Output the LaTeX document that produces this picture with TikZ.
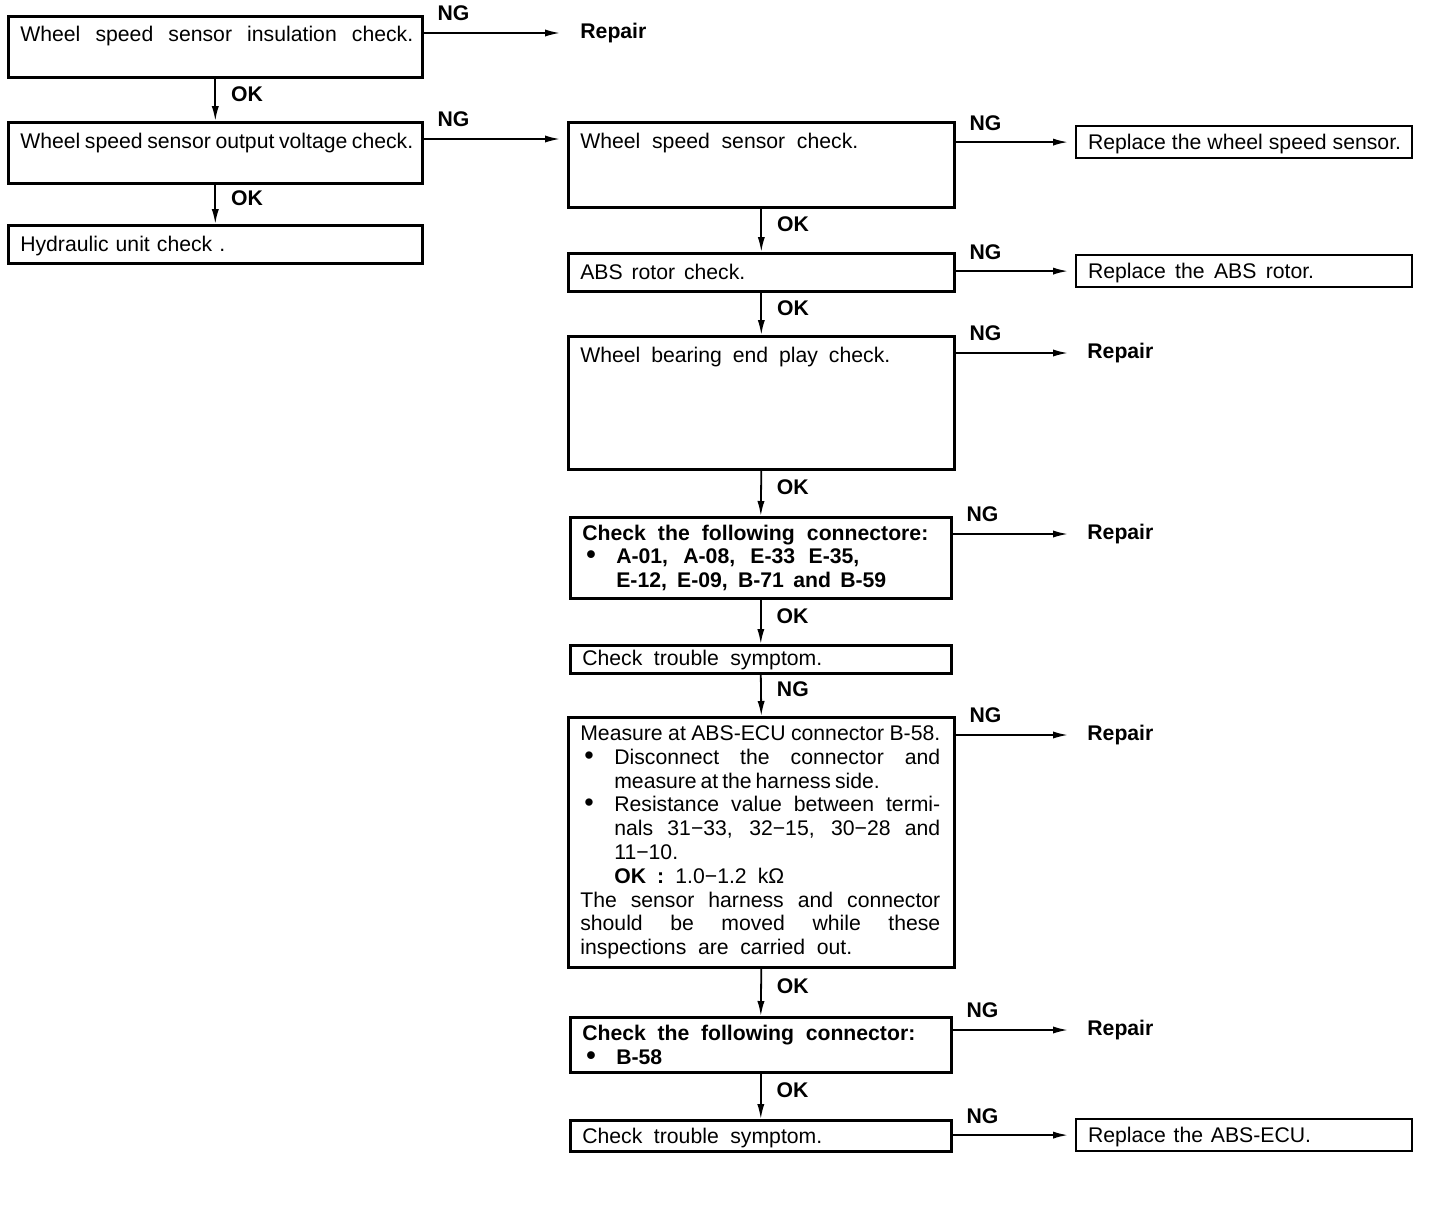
\documentclass[tikz,border=0pt]{standalone}
\usepackage{fontspec}
\setmainfont{Liberation Sans}
\usetikzlibrary{arrows.meta}

\newcommand{\chartfont}{\fontsize{10.6}{11.9}\selectfont}
\newcommand{\sline}[2]{\leavevmode\hbox to #1{\spaceskip=\fontdimen2\font plus 1fil minus \fontdimen4\font
  \xspaceskip=\spaceskip\relax #2}}
\newcommand{\bul}{\makebox[17pt][l]{\hspace{2pt}{\fontsize{13.5}{11.9}\selectfont\textbullet}}}
\newcommand{\ind}{\hspace*{17pt}}

\tikzset{
  box/.style={draw, line width=1.3pt, anchor=north west, inner xsep=6pt, inner ysep=0pt, align=left, text width=181pt},
  narrowbox/.style={box, text width=178.5pt},
  rbox/.style={box, line width=1.1pt, inner xsep=6pt, text width=156pt, text height=11.75pt, text depth=4.25pt},
  arr/.style={line width=0.9pt, -{Latex[length=7.5pt,width=3.6pt]}},
  ok/.style={anchor=west, inner sep=0pt, xshift=7.5pt, yshift=3pt, font=\chartfont\bfseries},
  ng/.style={pos=0, anchor=south west, inner sep=0pt, xshift=6.5pt, yshift=5.5pt, font=\chartfont\bfseries},
  rep/.style={anchor=west, inner sep=0pt, font=\chartfont\bfseries}
}

\begin{document}
\begin{tikzpicture}[x=0.5pt, y=-0.5pt, font=\chartfont]
  \useasboundingbox (0,0) rectangle (1440,1206);

  % Colonne de gauche
  \node[box, text width=195pt, text height=12.75pt, text depth=17.75pt] (insul) at (7,15)
    {\sline{196.5pt}{Wheel speed sensor insulation check.}};
  \node[box, text width=195pt, text height=13.25pt, text depth=17.25pt] (outvolt) at (7,121)
    {\sline{196.5pt}{Wheel speed sensor output voltage check.}};
  \node[box, text width=195pt, text height=13.25pt, text depth=5.75pt] (hydr) at (7,224)
    {Hydraulic unit check .};
  \node[rep] (repinsul) at (580,33) {Repair};

  % Colonne du milieu
  \node[box, text height=13.25pt, text depth=29.25pt] (sensor) at (567,121)
    {\sline{139pt}{Wheel speed sensor check.}};
  \node[box, text height=13.25pt, text depth=5.75pt] (rotor) at (567,252)
    {\sline{82.5pt}{ABS rotor check.}};
  \node[box, text height=13.25pt, text depth=53.25pt] (bearing) at (567,335)
    {\sline{155pt}{Wheel bearing end play check.}};
  \node[narrowbox, minimum height=40.5pt, font=\chartfont\bfseries] (conn) at (569,516)
    {\sline{173pt}{Check the following connectore:}\\
     \bul\sline{121.5pt}{A-01, A-08, E-33 E-35,}\\
     \ind\sline{135pt}{E-12, E-09, B-71 and B-59}};
  \node[narrowbox, text height=10.25pt, text depth=3.75pt] (symp) at (569,644)
    {\sline{120pt}{Check trouble symptom.}};
  \node[box, minimum height=125pt] (ecu) at (567,716)
    {\sline{180pt}{Measure at ABS-ECU connector B-58.}\\
     \bul\sline{163pt}{Disconnect the connector and}\\
     \ind\sline{131.5pt}{measure at the harness side.}\\
     \bul\sline{163pt}{Resistance value between termi-}\\
     \ind\sline{163pt}{nals 31−33, 32−15, 30−28 and}\\
     \ind 11−10.\\
     \ind\sline{85pt}{\textbf{OK :} 1.0−1.2 kΩ}\\
     \sline{180pt}{The sensor harness and connector}\\
     \sline{180pt}{should be moved while these}\\
     \sline{136pt}{inspections are carried out.}};
  \node[narrowbox, minimum height=27.5pt, font=\chartfont\bfseries] (connb) at (569,1016)
    {\sline{166.5pt}{Check the following connector:}\\
     \bul B-58};
  \node[narrowbox, text height=11.75pt, text depth=3.75pt] (sympb) at (569,1119)
    {\sline{120pt}{Check trouble symptom.}};

  % Colonne de droite
  \node[rbox] (repsensor) at (1075,125) {\sline{156.5pt}{Replace the wheel speed sensor.}};
  \node[rbox] (reprotor) at (1075,254) {\sline{113pt}{Replace the ABS rotor.}};
  \node[rbox] (repecu) at (1075,1118) {\sline{111.5pt}{Replace the ABS-ECU.}};
  \node[rep] (repbearing) at (1087,353) {Repair};
  \node[rep] (repconn) at (1087,534) {Repair};
  \node[rep] (repecum) at (1087,735) {Repair};
  \node[rep] (repconnb) at (1087,1030) {Repair};

  % Fleches OK
  \draw[arr] (insul.south) -- node[ok] {OK} (outvolt.north);
  \draw[arr] (outvolt.south) -- node[ok] {OK} (hydr.north);
  \draw[arr] (sensor.south) -- node[ok] {OK} (rotor.north);
  \draw[arr] (rotor.south) -- node[ok] {OK} (bearing.north);
  \draw[arr] (bearing.south) -- node[ok] {OK} (conn.north);
  \draw[arr] (conn.south) -- node[ok] {OK} (symp.north);
  \draw[arr] (symp.south) -- node[ok] {NG} (ecu.north);
  \draw[arr] (ecu.south) -- node[ok] {OK} (connb.north);
  \draw[arr] (connb.south) -- node[ok] {OK} (sympb.north);

  % Fleches NG
  \draw[arr, shorten >=10pt] (insul.east |- repinsul) -- node[ng] {NG} (repinsul.west);
  \draw[arr, shorten >=3.5pt] ([yshift=-9pt]outvolt.north east) -- node[ng] {NG} ([yshift=-9pt]sensor.north west);
  \draw[arr, shorten >=3.5pt] (sensor.east |- repsensor) -- node[ng] {NG} (repsensor.west);
  \draw[arr, shorten >=3.5pt] (rotor.east |- reprotor) -- node[ng] {NG} (reprotor.west);
  \draw[arr, shorten >=9.5pt] (bearing.east |- repbearing) -- node[ng] {NG} (repbearing.west);
  \draw[arr, shorten >=9.5pt] (conn.east |- repconn) -- node[ng] {NG} (repconn.west);
  \draw[arr, shorten >=9.5pt] (ecu.east |- repecum) -- node[ng] {NG} (repecum.west);
  \draw[arr, shorten >=9.5pt] (connb.east |- repconnb) -- node[ng] {NG} (repconnb.west);
  \draw[arr, shorten >=3.5pt] (sympb.east |- repecu) -- node[ng] {NG} (repecu.west);
\end{tikzpicture}
\end{document}
